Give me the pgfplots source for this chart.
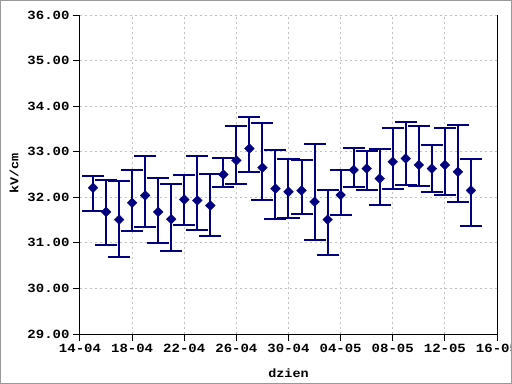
\documentclass[border=0pt]{standalone}
\usepackage{pgfplots}
\pgfplotsset{compat=1.18}
\usepackage{pgfplotstable}
\usepackage{fontspec}
\newfontfamily\chartfont[FakeStretch=1.12]{Liberation Mono Bold}
\definecolor{navyc}{HTML}{000080}
\definecolor{gridc}{HTML}{C0C0C0}
\definecolor{framec}{HTML}{999999}
\pgfplotstableread{
d y top bot
1 32.21 32.46 31.69
2 31.68 32.39 30.96
3 31.51 32.35 30.70
4 31.88 32.60 31.25
5 32.04 32.90 31.35
6 31.68 32.43 30.99
7 31.52 32.29 30.83
8 31.95 32.49 31.40
9 31.93 32.90 31.29
10 31.82 32.51 31.14
11 32.50 32.86 32.22
12 32.81 33.56 32.30
13 33.07 33.76 32.55
14 32.65 33.62 31.94
15 32.19 33.03 31.52
16 32.12 32.85 31.54
17 32.15 32.82 31.64
18 31.90 33.17 31.06
19 31.51 32.16 30.73
20 32.05 32.60 31.61
21 32.60 33.08 32.22
22 32.63 33.01 32.16
23 32.41 33.07 31.82
24 32.78 33.51 32.19
25 32.85 33.65 32.28
26 32.71 33.56 32.25
27 32.63 33.14 32.11
28 32.71 33.53 32.06
29 32.56 33.58 31.90
30 32.15 32.83 31.37
}\datatab
\begin{document}
\begin{tikzpicture}
\path[use as bounding box] (-80bp,-50bp) rectangle (432bp,334bp);
\fill[white] (-80bp,-50bp) rectangle (432bp,334bp);
\begin{axis}[
  at={(0,0)}, anchor=south west,
  scale only axis, width=417bp, height=319bp,
  xmin=0, xmax=32, ymin=29, ymax=36,
  axis x line=bottom, axis y line=left,
  axis line style={-, black, line width=1bp},
  xtick={0,4,...,32},
  xticklabels={14-04,18-04,22-04,26-04,30-04,04-05,08-05,12-05,16-05},
  ytick={29,30,...,36},
  yticklabels={29.00,30.00,31.00,32.00,33.00,34.00,35.00,36.00},
  tick align=outside, major tick length=7bp,
  every tick/.style={black, line width=1bp},
  tick label style={font=\chartfont\fontsize{12.5bp}{14bp}\selectfont},
  grid=major,
  major grid style={gridc, dash pattern=on 2bp off 3bp, line width=1bp},
  xlabel={dzien}, ylabel={kV/cm},
  label style={font=\chartfont\fontsize{12bp}{14bp}\selectfont},
  xlabel style={at={(axis description cs:0.5,-0.122)}, anchor=center},
  ylabel style={at={(axis description cs:-0.158,0.503)}, anchor=center},
  clip=false,
]
\addplot[only marks, navyc, mark=square*, mark size=3.5bp,
  mark options={rotate=45, fill=navyc, draw=navyc, line width=0.2bp},
  error bars/.cd, y dir=both, y explicit,
  error bar style={navyc, line width=2bp},
  error mark options={navyc, line width=2bp, mark size=11bp, rotate=90}]
  table[x=d, y=y, y error plus expr=\thisrow{top}-\thisrow{y}, y error minus expr=\thisrow{y}-\thisrow{bot}] {\datatab};
\draw[black, line width=1bp] (rel axis cs:1,0) -- (rel axis cs:1,1);
\end{axis}
\draw[framec, line width=1.5bp] (-79.25bp,-49.25bp) rectangle (431.25bp,333.25bp);
\end{tikzpicture}
\end{document}
